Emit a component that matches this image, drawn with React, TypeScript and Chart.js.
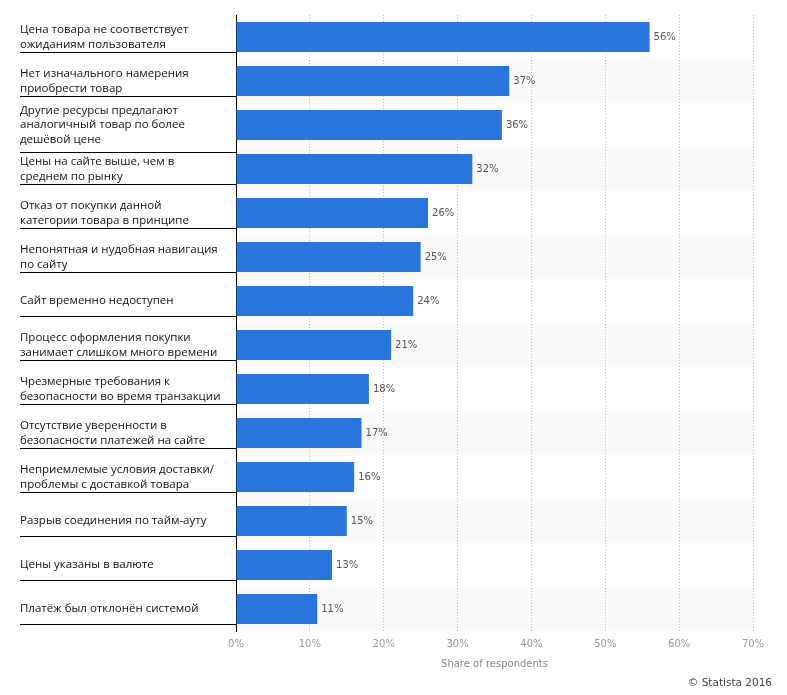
import React, { useEffect, useRef } from "react";
import { Chart, registerables } from "chart.js";

Chart.register(...registerables);

const categories: string[][] = [
  ["Цена товара не соответствует", "ожиданиям пользователя"],
  ["Нет изначального намерения", "приобрести товар"],
  ["Другие ресурсы предлагают", "аналогичный товар по более", "дешёвой цене"],
  ["Цены на сайте выше, чем в", "среднем по рынку"],
  ["Отказ от покупки данной", "категории товара в принципе"],
  ["Непонятная и нудобная навигация", "по сайту"],
  ["Сайт временно недоступен"],
  ["Процесс оформления покупки", "занимает слишком много времени"],
  ["Чрезмерные требования к", "безопасности во время транзакции"],
  ["Отсутствие уверенности в", "безопасности платежей на сайте"],
  ["Неприемлемые условия доставки/", "проблемы с доставкой товара"],
  ["Разрыв соединения по тайм-ауту"],
  ["Цены указаны в валюте"],
  ["Платёж был отклонён системой"],
];

const values: number[] = [56, 37, 36, 32, 26, 25, 24, 21, 18, 17, 16, 15, 13, 11];

const xTicks: number[] = [0, 10, 20, 30, 40, 50, 60, 70];

const axisTitle = "Share of respondents";
const credit = "© Statista 2016";

const LABEL_LINE = 14.5;

const decorPlugin = {
  id: "decor",
  beforeDraw(chart: any) {
    const { ctx, chartArea, scales } = chart;
    const y = scales.y;
    const rowH = Math.abs(y.getPixelForValue(1) - y.getPixelForValue(0));
    ctx.save();
    ctx.fillStyle = "#f9f9f9";
    for (let i = 1; i < values.length; i += 2) {
      const c = y.getPixelForValue(i);
      ctx.fillRect(chartArea.left, c - rowH / 2, chartArea.right - chartArea.left, rowH);
    }
    ctx.restore();
  },
  afterDatasetsDraw(chart: any) {
    const { ctx, chartArea } = chart;
    const meta = chart.getDatasetMeta(0);
    ctx.save();
    ctx.font = "10px 'DejaVu Sans'";
    ctx.fillStyle = "#555";
    ctx.textAlign = "left";
    ctx.textBaseline = "middle";
    meta.data.forEach((bar: any, i: number) => {
      ctx.fillText(values[i] + "%", bar.x + 4, bar.y);
    });
    ctx.strokeStyle = "#000";
    ctx.lineWidth = 1;
    meta.data.forEach((bar: any, i: number) => {
      const barBottom = bar.y + bar.height / 2;
      const textBottom = bar.y + (categories[i].length - 1) * LABEL_LINE - 2;
      const yy = Math.round(Math.max(barBottom, textBottom)) + 0.5;
      ctx.beginPath();
      ctx.moveTo(12, yy);
      ctx.lineTo(chartArea.left, yy);
      ctx.stroke();
    });
    ctx.restore();
  },
  afterDraw(chart: any) {
    const { ctx, width, height } = chart;
    ctx.save();
    ctx.font = "10.5px 'DejaVu Sans'";
    ctx.fillStyle = "#444";
    ctx.textAlign = "right";
    ctx.textBaseline = "middle";
    ctx.fillText(credit, width - 7, height - 12);
    ctx.restore();
  },
};

export default function App() {
  const ref = useRef<HTMLCanvasElement | null>(null);

  useEffect(() => {
    if (!ref.current) return;
    const chart = new Chart(ref.current, {
      type: "bar",
      data: {
        labels: categories,
        datasets: [
          {
            data: values,
            backgroundColor: "#2876dd",
            categoryPercentage: 1,
            barPercentage: 0.68,
          },
        ],
      },
      options: {
        indexAxis: "y",
        animation: false,
        responsive: true,
        maintainAspectRatio: false,
        layout: { padding: { left: 12, right: 26, top: 7, bottom: 20 } },
        plugins: {
          legend: { display: false },
          tooltip: { enabled: false },
        },
        scales: {
          x: {
            min: 0,
            max: 70,
            afterBuildTicks: (scale: any) => {
              scale.ticks = xTicks.map((v) => ({ value: v }));
            },
            afterFit: (scale: any) => {
              scale.height = 44;
            },
            border: { display: false, dash: [1, 2] },
            grid: {
              color: "#bdbdbd",
              drawTicks: false,
            },
            ticks: {
              padding: 7,
              color: "#999",
              font: { family: "'DejaVu Sans'", size: 10 },
              callback: (v: any) => v + "%",
            },
            title: {
              display: true,
              text: axisTitle,
              color: "#888",
              font: { family: "'DejaVu Sans'", size: 10 },
              padding: { top: 0, bottom: 5 },
            },
          },
          y: {
            afterFit: (scale: any) => {
              scale.width = 216;
              scale.paddingTop = 0;
              scale.paddingBottom = 0;
            },
            border: { display: true, color: "#000", width: 1 },
            grid: { display: false },
            ticks: {
              crossAlign: "far",
              color: "#111",
              font: { family: "'Open Sans'", size: 11.5, lineHeight: LABEL_LINE / 11.5 },
              autoSkip: false,
            },
          },
        },
      },
      plugins: [decorPlugin],
    } as any);
    return () => chart.destroy();
  }, []);

  return (
    <div style={{ width: 771, height: 687, marginBottom: -8, position: "relative" }}>
      <canvas ref={ref} />
    </div>
  );
}
